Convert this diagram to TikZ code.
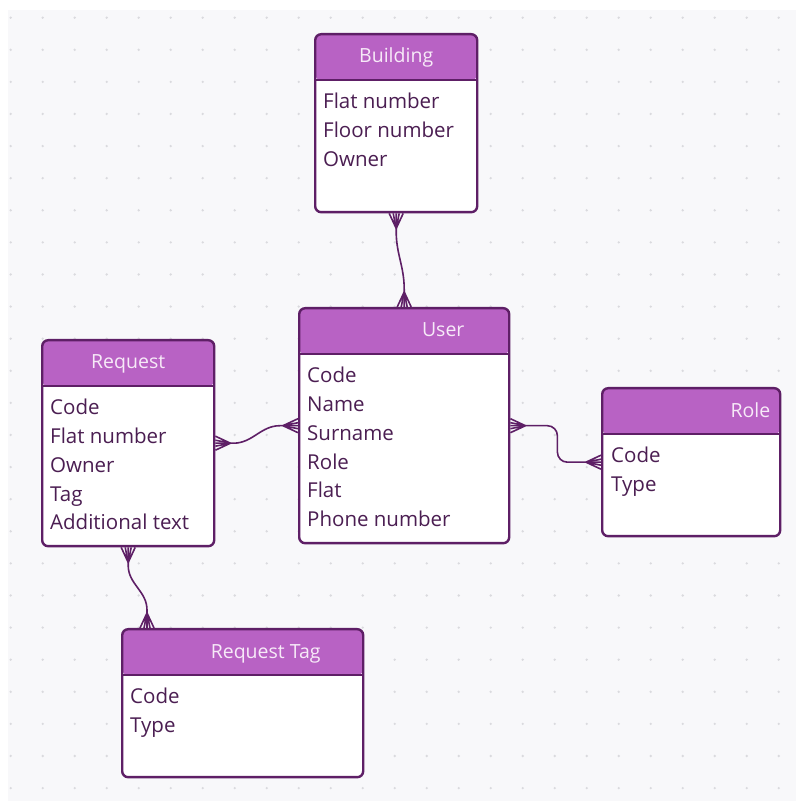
\documentclass[tikz,border=0pt]{standalone}
\usepackage{fontspec}
\setmainfont{Open Sans}
\usetikzlibrary{calc,positioning}
\definecolor{erpurple}{HTML}{B862C4}
\definecolor{erline}{HTML}{5E1F66}
\definecolor{ertext}{HTML}{4B1E52}
\definecolor{ertitle}{HTML}{F7EAF8}
\definecolor{canvasgray}{HTML}{F8F8FA}
\definecolor{dotgray}{HTML}{DADADE}
\tikzset{
  entity/.style={draw=erline, fill=white, line width=2.4pt, rounded corners=6pt, anchor=north west, inner sep=0pt,
    path picture={
      \fill[erpurple] (path picture bounding box.north west) rectangle ([yshift=-46pt]path picture bounding box.north east);
      \draw[erline, line width=2pt] ([yshift=-46pt]path picture bounding box.north west) -- ([yshift=-46pt]path picture bounding box.north east);
    }},
  headtext/.style={text=ertitle, anchor=base, inner sep=0pt, font=\fontsize{19.5}{22}\selectfont},
  fieldtext/.style={text=ertext, align=left, anchor=north west, inner sep=0pt, font=\fontsize{20.5}{28.8}\selectfont},
  link/.style={erline, line width=1.6pt}
}
% crow's foot at an entity edge, #2 = direction away from the box
\newcommand{\crowfoot}[2]{%
  \draw[link] ([shift={(#2:15pt)}]#1) -- ([shift={(#2+90:7pt)}]#1)
              ([shift={(#2:15pt)}]#1) -- ([shift={(#2-90:7pt)}]#1)
              ([shift={(#2:15pt)}]#1) -- ([shift={(#2+90:3pt)}]#1)
              ([shift={(#2:15pt)}]#1) -- ([shift={(#2-90:3pt)}]#1);}

\begin{document}
\begin{tikzpicture}[x=1pt, y=1pt]
  \useasboundingbox (0,0) rectangle (796,801);
  \fill[canvasgray] (8,0) rectangle (796,791);
  \foreach \i in {0,...,24}{
    \foreach \j in {0,...,24}{
      \fill[dotgray] ({10.7+32*\i}, {783.3-32.1*\j}) circle (1.3);
    }
  }
  % entities
  \node[entity, minimum width=162pt, minimum height=178pt] (building) at (314,768) {};
  \node[entity, minimum width=210pt, minimum height=235pt] (user) at (298,494) {};
  \node[entity, minimum width=172pt, minimum height=206pt] (request) at (41,462) {};
  \node[entity, minimum width=178pt, minimum height=148pt] (role) at (601,414) {};
  \node[entity, minimum width=241pt, minimum height=148pt] (rtag) at (121,173) {};
  \node[headtext] (buildingtitle) at ([yshift=-30pt]building.north) {Building};
  \node[headtext] (usertitle) at ([xshift=39pt,yshift=-30pt]user.north) {User};
  \node[headtext] (requesttitle) at ([yshift=-30pt]request.north) {Request};
  \node[headtext, anchor=base east] (roletitle) at ([xshift=-11pt,yshift=-31pt]role.north east) {Role};
  \node[headtext] (rtagtitle) at ([xshift=23pt,yshift=-31pt]rtag.north) {Request Tag};
  \node[fieldtext] (buildingfields) at ([xshift=9pt,yshift=-60pt]building.north west) {Flat number\\Floor number\\Owner};
  \node[fieldtext] (userfields) at ([xshift=9pt,yshift=-60pt]user.north west) {Code\\Name\\Surname\\Role\\Flat\\Phone number};
  \node[fieldtext] (requestfields) at ([xshift=9pt,yshift=-60pt]request.north west) {Code\\Flat number\\Owner\\Tag\\Additional text};
  \node[fieldtext] (rolefields) at ([xshift=10pt,yshift=-60pt]role.north west) {Code\\Type};
  \node[fieldtext] (rtagfields) at ([xshift=9pt,yshift=-60pt]rtag.north west) {Code\\Type};
  % relations
  \coordinate (rtagin) at ([xshift=26pt]rtag.north west);
  \draw[link] (building.south) -- ++(0,-18) to[out=-90,in=90] ([yshift=18pt]user.north) -- (user.north);
  \draw[link] (request.east) -- ++(18,0) to[out=0,in=180] ([xshift=-18pt]user.west) -- (user.west);
  \draw[link, rounded corners=10pt] (user.east) -- ++(47,0) |- (role.west);
  \draw[link] (request.south) -- ++(0,-18) to[out=-90,in=90] ([yshift=18pt]rtagin) -- (rtagin);
  \crowfoot{building.south}{-90}
  \crowfoot{user.north}{90}
  \crowfoot{request.east}{0}
  \crowfoot{user.west}{180}
  \crowfoot{user.east}{0}
  \crowfoot{role.west}{180}
  \crowfoot{request.south}{-90}
  \crowfoot{rtagin}{90}
\end{tikzpicture}
\end{document}
